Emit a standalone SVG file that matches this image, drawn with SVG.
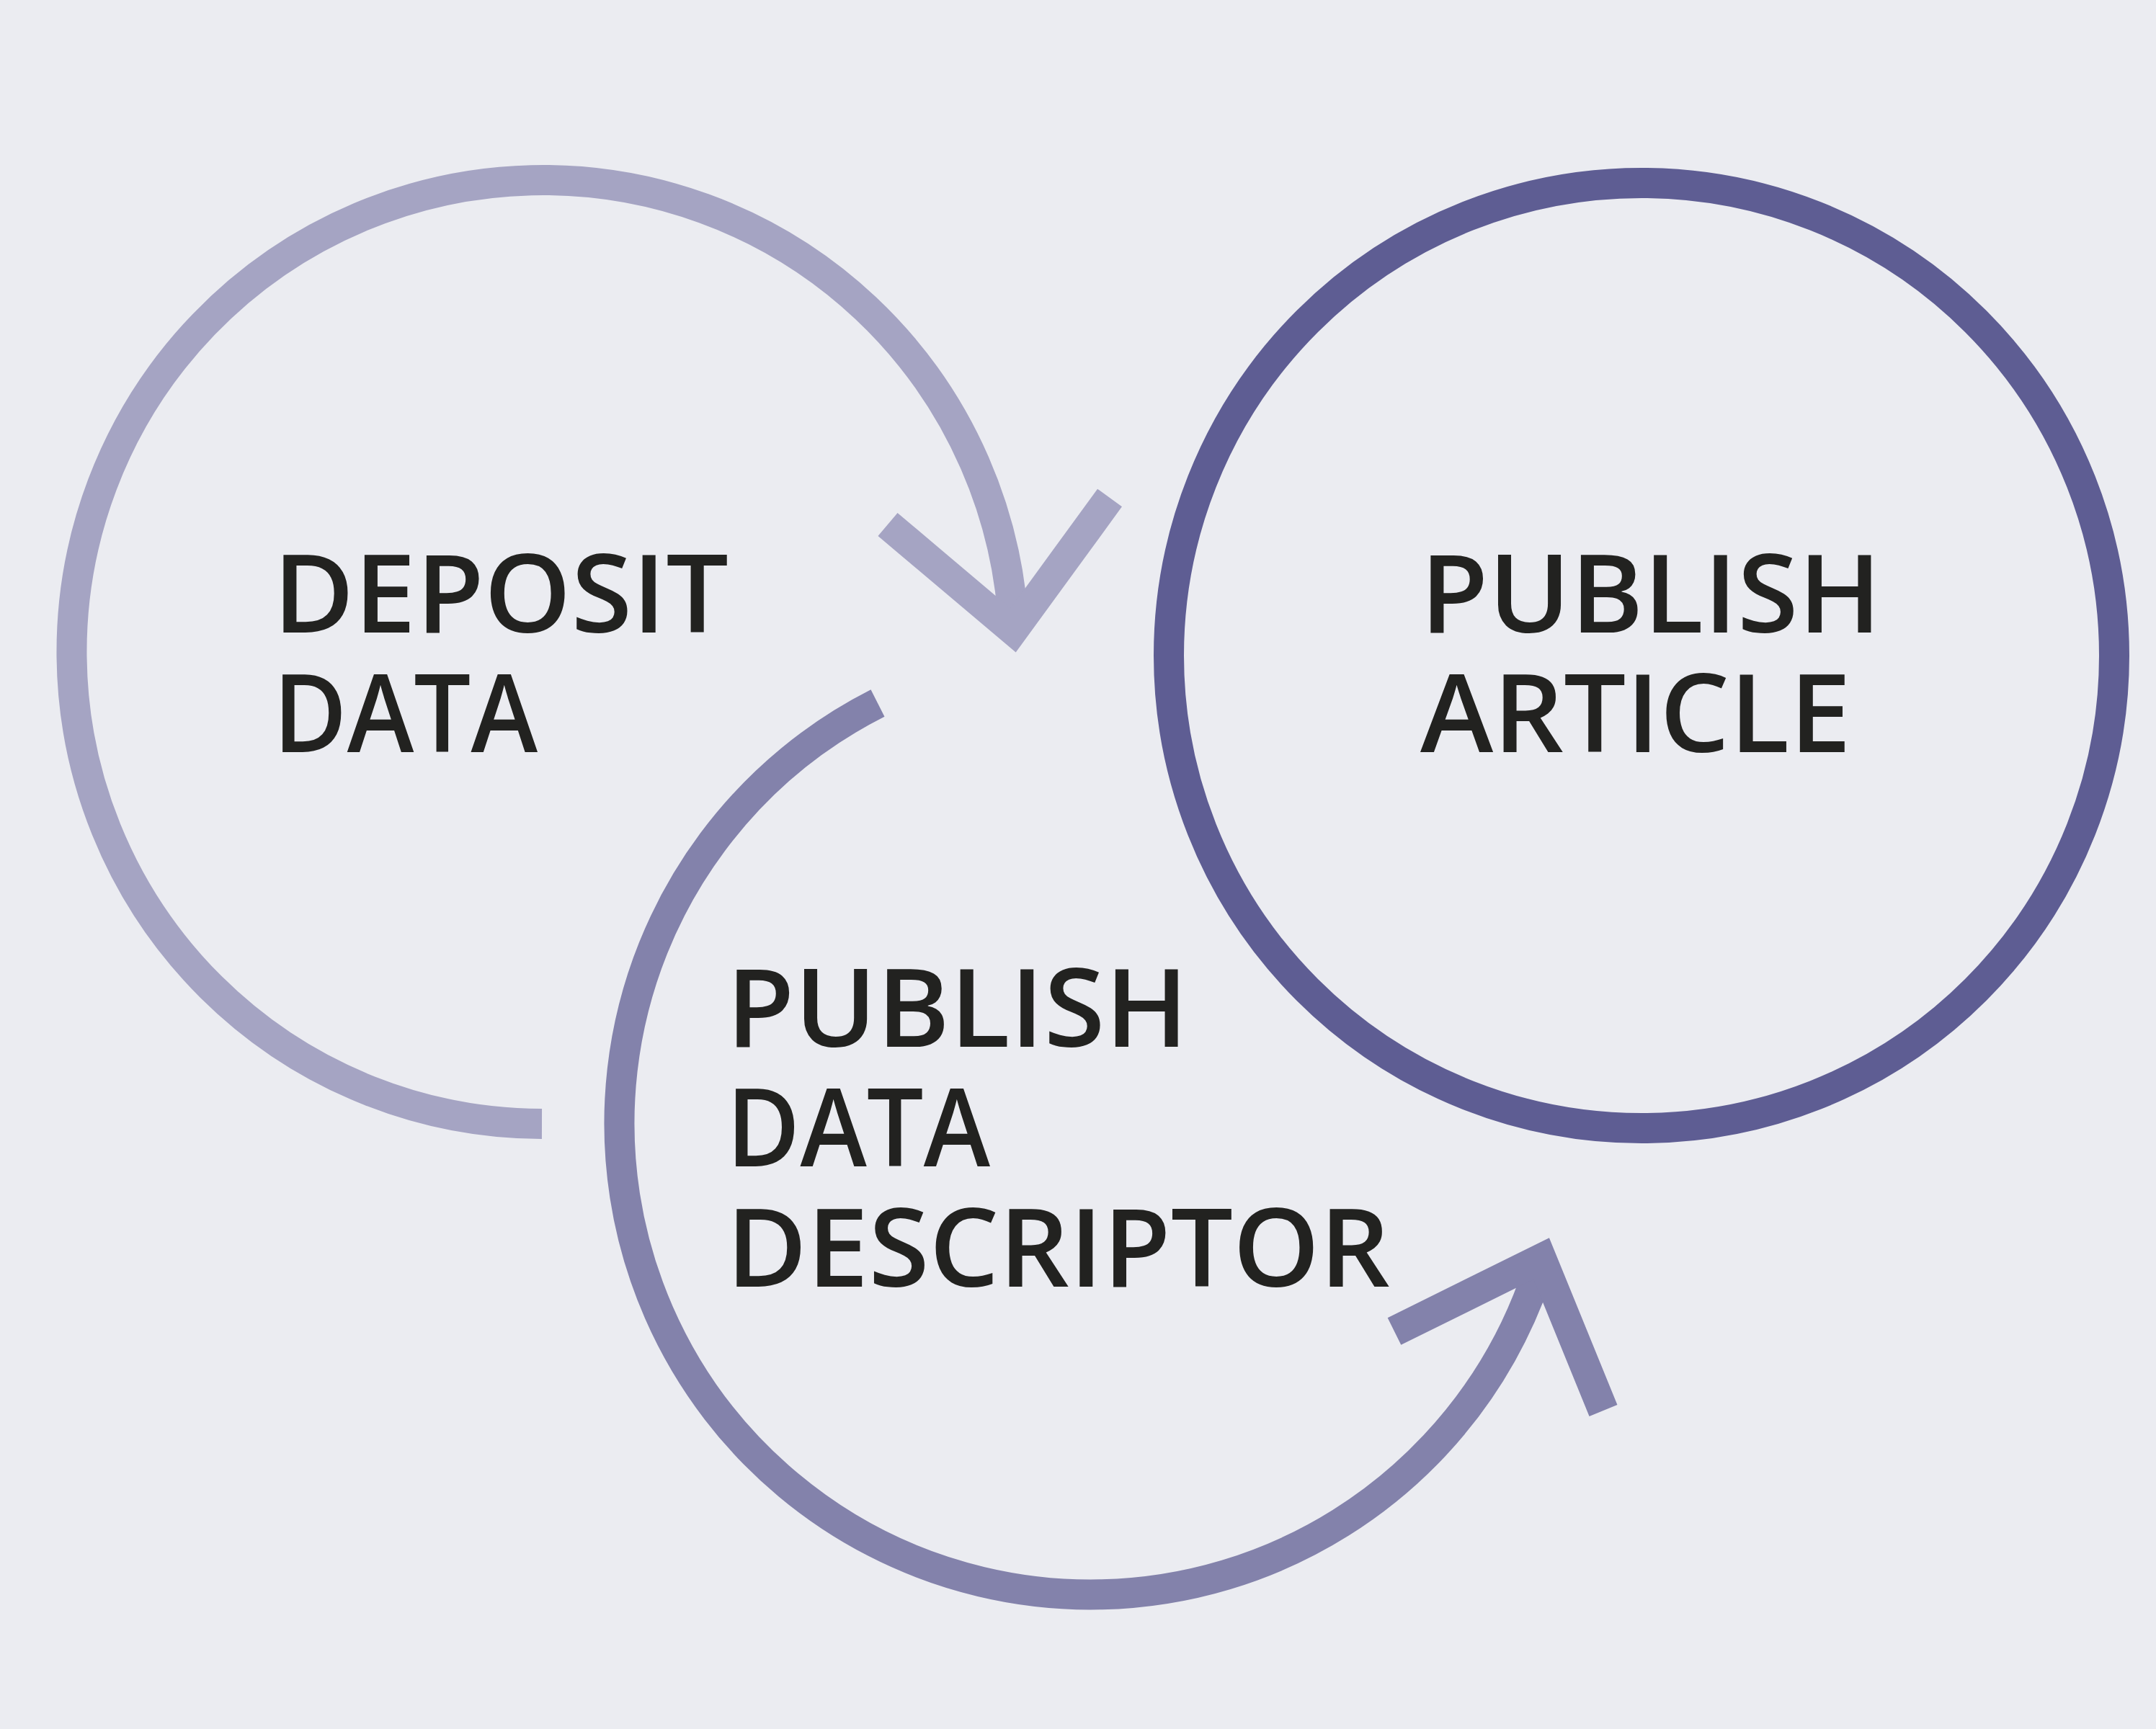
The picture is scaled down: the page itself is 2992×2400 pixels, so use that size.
<svg xmlns="http://www.w3.org/2000/svg" width="2992" height="2400" viewBox="0 0 2992 2400">
<style>
.lbl{font-family:"Open Sans","Noto Sans","Liberation Sans",sans-serif;font-weight:600;font-size:151px;fill:#222220}
.arc{fill:none;stroke-width:42;stroke-linecap:butt;stroke-linejoin:miter;stroke-miterlimit:10}
</style>
<rect width="2992" height="2400" fill="#ebecf1"/>
<g id="connectors">
<path class="arc" stroke="#a5a4c3" d="M 752 1560 A 654 655 0 1 1 1407 880"/>
<polyline class="arc" stroke="#a5a4c3" points="1232,728 1406,875 1540,691"/>
<path class="arc" stroke="#8382ab" d="M 1218 976 A 654 654 0 1 0 2140 1747"/>
<polyline class="arc" stroke="#8382ab" points="1935,1848 2139,1747 2225,1958"/>
</g>
<g id="node-deposit">
<text class="lbl" x="379" y="878" textLength="632" lengthAdjust="spacingAndGlyphs">DEPOSIT</text>
<text class="lbl" x="379" y="1044" textLength="367" lengthAdjust="spacingAndGlyphs">DATA</text>
</g>
<g id="node-article">
<circle cx="2278" cy="910" r="656" fill="none" stroke="#5e5d93" stroke-width="42"/>
<text class="lbl" x="1971" y="878" textLength="640" lengthAdjust="spacingAndGlyphs">PUBLISH</text>
<text class="lbl" x="1971" y="1044" textLength="598" lengthAdjust="spacingAndGlyphs">ARTICLE</text>
</g>
<g id="node-descriptor">
<text class="lbl" x="1008" y="1453" textLength="641" lengthAdjust="spacingAndGlyphs">PUBLISH</text>
<text class="lbl" x="1008" y="1619" textLength="366" lengthAdjust="spacingAndGlyphs">DATA</text>
<text class="lbl" x="1008" y="1786" textLength="921" lengthAdjust="spacingAndGlyphs">DESCRIPTOR</text>
</g>
</svg>
